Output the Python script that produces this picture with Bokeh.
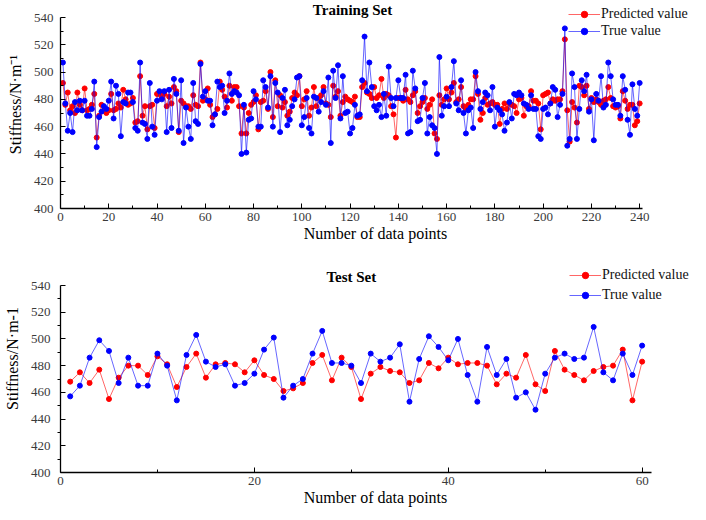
from bokeh.plotting import figure
from bokeh.models import FixedTicker, Legend, LegendItem, Range1d, Label
from bokeh.layouts import column
from bokeh.embed import file_html
from bokeh.resources import INLINE

FONT = "Liberation Serif"

train_index = list(range(1, 241))
train_true = [
    507, 477, 457, 470, 456, 478, 472, 479, 472, 479,
    468, 468, 473, 493, 445, 467, 471, 475, 473, 479,
    493, 466, 490, 484, 453, 478, 477, 485, 485, 478,
    459, 457, 507, 463, 462, 451, 492, 460, 454, 479,
    486, 480, 486, 456, 487, 459, 495, 484, 457, 494,
    448, 474, 460, 451, 492, 464, 462, 506, 482, 486,
    479, 479, 461, 469, 493, 489, 490, 470, 479, 499,
    484, 486, 485, 483, 440, 476, 441, 465, 466, 486,
    480, 460, 460, 494, 489, 474, 497, 460, 492, 485,
    456, 481, 487, 461, 465, 475, 480, 496, 497, 461,
    467, 481, 459, 455, 482, 481, 471, 478, 486, 476,
    496, 448, 501, 481, 505, 466, 497, 470, 471, 455,
    459, 476, 468, 469, 494, 526, 486, 507, 489, 475,
    472, 476, 467, 484, 468, 504, 481, 475, 481, 494,
    481, 481, 498, 455, 456, 501, 488, 464, 465, 481,
    492, 455, 467, 461, 459, 440, 511, 468, 475, 482,
    475, 489, 508, 477, 472, 494, 470, 455, 472, 474,
    459, 500, 486, 473, 478, 485, 483, 472, 489, 460,
    474, 472, 469, 457, 463, 478, 466, 484, 483, 485,
    483, 477, 476, 473, 483, 473, 473, 453, 451, 473,
    474, 469, 477, 489, 487, 467, 476, 484, 532, 446,
    451, 499, 489, 451, 473, 494, 486, 498, 471, 480,
    450, 484, 479, 497, 474, 476, 507, 497, 480, 476,
    476, 468, 497, 487, 465, 454, 491, 473, 468, 492,
]
train_pred = [
    492, 476, 485, 472, 475, 470, 485, 476, 472, 488,
    472, 473, 476, 484, 452, 468, 476, 472, 470, 472,
    484, 472, 473, 477, 474, 487, 480, 476, 477, 481,
    463, 464, 497, 468, 475, 458, 475, 476, 459, 484,
    484, 481, 484, 475, 482, 477, 489, 486, 456, 479,
    477, 475, 475, 473, 483, 476, 475, 507, 479, 480,
    488, 476, 467, 469, 473, 493, 487, 482, 474, 490,
    479, 489, 489, 475, 455, 474, 455, 470, 476, 478,
    483, 458, 478, 479, 486, 473, 500, 467, 494, 475,
    483, 474, 478, 468, 471, 481, 485, 483, 497, 475,
    480, 486, 468, 474, 489, 475, 481, 483, 489, 477,
    476, 467, 490, 482, 486, 468, 478, 482, 480, 479,
    478, 482, 467, 467, 489, 492, 485, 484, 481, 489,
    481, 483, 495, 481, 484, 483, 475, 469, 452, 481,
    481, 479, 487, 480, 478, 483, 486, 470, 475, 478,
    481, 473, 476, 480, 455, 451, 483, 476, 480, 488,
    480, 485, 492, 478, 480, 489, 475, 473, 476, 480,
    480, 497, 484, 465, 470, 481, 476, 477, 478, 476,
    476, 462, 473, 477, 473, 477, 476, 475, 470, 480,
    481, 468, 475, 475, 486, 479, 479, 477, 458, 483,
    484, 485, 477, 480, 479, 480, 480, 486, 524, 472,
    449, 478, 474, 463, 490, 489, 483, 490, 473, 481,
    478, 480, 478, 476, 479, 480, 489, 481, 475, 474,
    475, 466, 486, 479, 473, 476, 476, 461, 464, 477,
]

test_index = list(range(1, 61))
test_true = [
    457, 465, 486, 499, 491, 467, 486, 465, 465, 489,
    480, 454, 488, 503, 483, 479, 481, 465, 467, 474,
    492, 501, 456, 465, 470, 489, 506, 482, 482, 480,
    467, 489, 483, 486, 496, 453, 485, 502, 494, 484,
    500, 473, 453, 494, 473, 485, 456, 460, 447, 474,
    486, 489, 485, 486, 509, 475, 469, 489, 473, 495,
]
test_pred = [
    468, 475, 467, 477, 455, 471, 480, 480, 473, 487,
    481, 464, 479, 489, 471, 481, 482, 481, 475, 484,
    473, 470, 461, 463, 467, 482, 488, 469, 486, 479,
    455, 474, 479, 476, 475, 467, 469, 482, 478, 486,
    481, 482, 482, 480, 466, 474, 471, 488, 466, 461,
    491, 477, 473, 469, 476, 479, 480, 492, 454, 483,
]

y_major = [400, 420, 440, 460, 480, 500, 520, 540]
y_minor = [410, 430, 450, 470, 490, 510, 530]
train_x_major = [0, 20, 40, 60, 80, 100, 120, 140, 160, 180, 200, 220, 240]
train_x_minor = [10, 30, 50, 70, 90, 110, 130, 150, 170, 190, 210, 230]
test_x_major = [0, 20, 40, 60]
test_x_minor = [10, 30, 50]

series_names = ["Predicted value", "True value"]
RED = "#ff0000"
BLUE = "#0000ff"
W = 690


def make_fig(title, ylabel, xs, pred, true, x_axis_end, height, left, bottom,
             px_per_x, top_gap, title_x, title_gap, xmaj, xmin,
             legend_x, legend_top, legend_spacing, minor_out):
    # the frame fills everything right of the y axis and above the x axis;
    # the axes are limited with bounds so the title and the legend can sit
    # in the free band at the top / right, as in the reference.
    frame_w = W - left
    frame_h = height - bottom
    y_scale = (frame_h - top_gap) / 140.0          # px per stiffness unit
    x_end = frame_w / px_per_x
    y_end = 400 + frame_h / y_scale
    p = figure(width=W, height=height, output_backend="svg",
               toolbar_location=None, x_range=Range1d(0, x_end),
               y_range=Range1d(400, y_end),
               min_border_left=left, min_border_right=0,
               min_border_top=0, min_border_bottom=bottom)
    p.outline_line_color = None
    p.xgrid.grid_line_color = None
    p.ygrid.grid_line_color = None
    p.background_fill_color = "white"

    # series
    lp = p.line(xs, pred, color=RED, line_width=1, line_alpha=0.6)
    sp = p.scatter(xs, pred, color=RED, size=5)
    lt = p.line(xs, true, color=BLUE, line_width=1, line_alpha=0.6)
    st = p.scatter(xs, true, color=BLUE, size=5)

    p.add_layout(Label(x=title_x, y=540 + title_gap / y_scale, text=title,
                       text_font=FONT, text_font_style="bold",
                       text_font_size="15px", text_align="center",
                       text_baseline="middle", text_color="black"))

    leg_h = 16 * 2 + legend_spacing
    legend = Legend(items=[LegendItem(label=series_names[0], renderers=[lp, sp]),
                           LegendItem(label=series_names[1], renderers=[lt, st])],
                    location=(legend_x, frame_h - legend_top - leg_h),
                    glyph_width=32, glyph_height=16,
                    label_height=16, label_standoff=1, spacing=legend_spacing,
                    padding=0, margin=0, border_line_color=None,
                    background_fill_alpha=0, label_text_font=FONT,
                    label_text_font_size="14px", label_text_color="#111111")
    p.add_layout(legend)

    for ax in (p.xaxis[0], p.yaxis[0]):
        ax.axis_line_color = "black"
        ax.axis_line_width = 1.3
        ax.major_tick_line_color = "black"
        ax.minor_tick_line_color = "black"
        ax.major_tick_in = 5
        ax.major_tick_out = 0
        ax.major_label_text_font = FONT
        ax.major_label_text_font_size = "13px"
        ax.major_label_text_color = "#3a3a3a"
        ax.axis_label_text_font = FONT
        ax.axis_label_text_font_size = "16px"
        ax.axis_label_text_font_style = "normal"
        ax.axis_label_text_color = "black"

    xa = p.xaxis[0]
    xa.bounds = (0, x_axis_end)
    xa.ticker = FixedTicker(ticks=xmaj, minor_ticks=xmin)
    xa.minor_tick_in = 3
    xa.minor_tick_out = 0
    xa.axis_label = "Number of data points"
    xa.major_label_standoff = 4
    xa.axis_label_standoff = 1

    ya = p.yaxis[0]
    ya.bounds = (400, 540)
    ya.ticker = FixedTicker(ticks=y_major, minor_ticks=y_minor)
    if minor_out:
        ya.minor_tick_in = 0
        ya.minor_tick_out = 3
    else:
        ya.minor_tick_in = 3
        ya.minor_tick_out = 0
    ya.axis_label = ylabel
    ya.major_label_standoff = 7
    ya.axis_label_standoff = 7
    return p


p1 = make_fig("Training Set", "Stiffness/N·m\u207b\u00b9", train_index,
              train_pred, train_true, 241, 244, 53, 36,
              2.44, 17, 121, 8, train_x_major, train_x_minor,
              508, 6, 1, False)
p2 = make_fig("Test Set", "Stiffness/N·m-1", test_index,
              test_pred, test_true, 61, 264, 52, 36,
              9.817, 41, 30, 9, test_x_major, test_x_minor,
              509, 23, 4, True)

layout = column(p1, p2, spacing=0)
open("out.html", "w").write(file_html(layout, INLINE))
